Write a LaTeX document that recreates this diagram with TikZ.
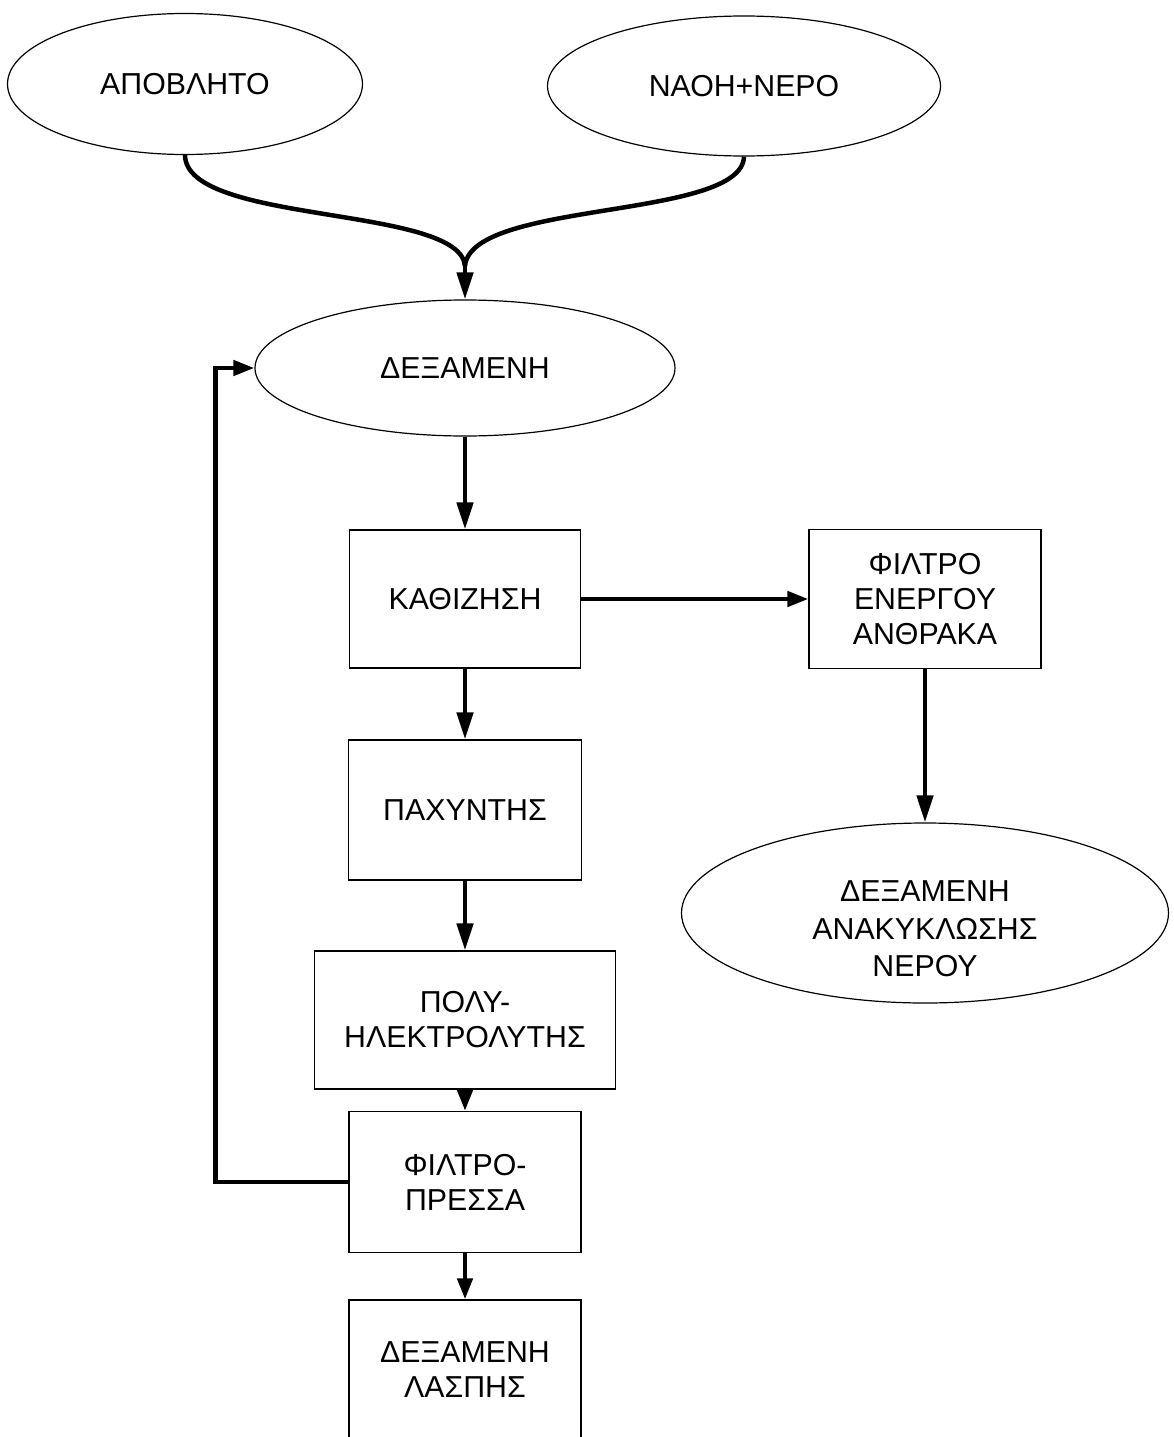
\documentclass[tikz,border=0pt]{standalone}
\usepackage{fontspec}
\setmainfont{Liberation Sans}
\usetikzlibrary{shapes.geometric,arrows.meta}
\begin{document}
\begin{tikzpicture}[x=1pt,y=-1pt,
  every node/.style={font=\fontsize{30.3}{35}\selectfont, align=center, inner sep=0pt},
  oval/.style={draw, ellipse, line width=1.2pt},
  box/.style={draw, rectangle, line width=1.2pt},
  arr/.style={line width=4.5pt, -{Triangle[length=27pt,width=16pt]}},
  sarr/.style={line width=4.5pt, -{Triangle[length=21pt,width=15pt]}},
  curve/.style={line width=4.5pt}
]
\useasboundingbox (0,0) rectangle (1174,1437);
\clip (0,0) rectangle (1174,1437);

\node[oval, minimum width=355pt, minimum height=141pt] (apo) at (185,84) {ΑΠΟΒΛΗΤΟ};
\node[oval, minimum width=393pt, minimum height=140pt] (naoh) at (744,86) {ΝΑΟΗ+ΝΕΡΟ};
\node[oval, minimum width=420pt, minimum height=136pt] (deks) at (465,368) {ΔΕΞΑΜΕΝΗ};

\node[box, minimum width=231pt, minimum height=138pt] (kath) at (465,599) {ΚΑΘΙΖΗΣΗ};
\node[box, minimum width=232pt, minimum height=139pt] (filt) at (925,599) {ΦΙΛΤΡΟ\\ΕΝΕΡΓΟΥ\\ΑΝΘΡΑΚΑ};
\node[oval, minimum width=487pt, minimum height=180pt] (anak) at (925,913) {};
\node[font=\fontsize{30.3}{37.5}\selectfont] (anakt) at (925,929) {ΔΕΞΑΜΕΝΗ\\ΑΝΑΚΥΚΛΩΣΗΣ\\ΝΕΡΟΥ};

\node[box, minimum width=233pt, minimum height=140pt] (pach) at (465,810) {ΠΑΧΥΝΤΗΣ};
\node[box, minimum width=301pt, minimum height=138pt] (poly) at (465,1020) {ΠΟΛΥ-\\ΗΛΕΚΤΡΟΛΥΤΗΣ};
\node[box, minimum width=232pt, minimum height=141pt] (press) at (465,1182) {ΦΙΛΤΡΟ-\\ΠΡΕΣΣΑ};
\node[box, minimum width=232pt, minimum height=140pt] (lasp) at (465,1370) {ΔΕΞΑΜΕΝΗ\\ΛΑΣΠΗΣ};

\coordinate (merge) at (465,266);
\draw[curve] (apo.south) .. controls (186,225) and (460,205) .. (merge);
\draw[curve] (naoh.south) .. controls (742,220) and (471,200) .. (merge);
\draw[arr] (merge) -- (deks.north);

\draw[arr] (deks) -- (kath);
\draw[sarr] (kath) -- (filt);
\draw[arr] (filt) -- (anak);
\draw[arr] (kath) -- (pach);
\draw[arr] (pach) -- (poly);
\draw[sarr] (poly) -- (press);
\draw[sarr] (press) -- (lasp);
\draw[sarr] (press.west) -- ++(-133,0) |- (deks.west);
\end{tikzpicture}
\end{document}
